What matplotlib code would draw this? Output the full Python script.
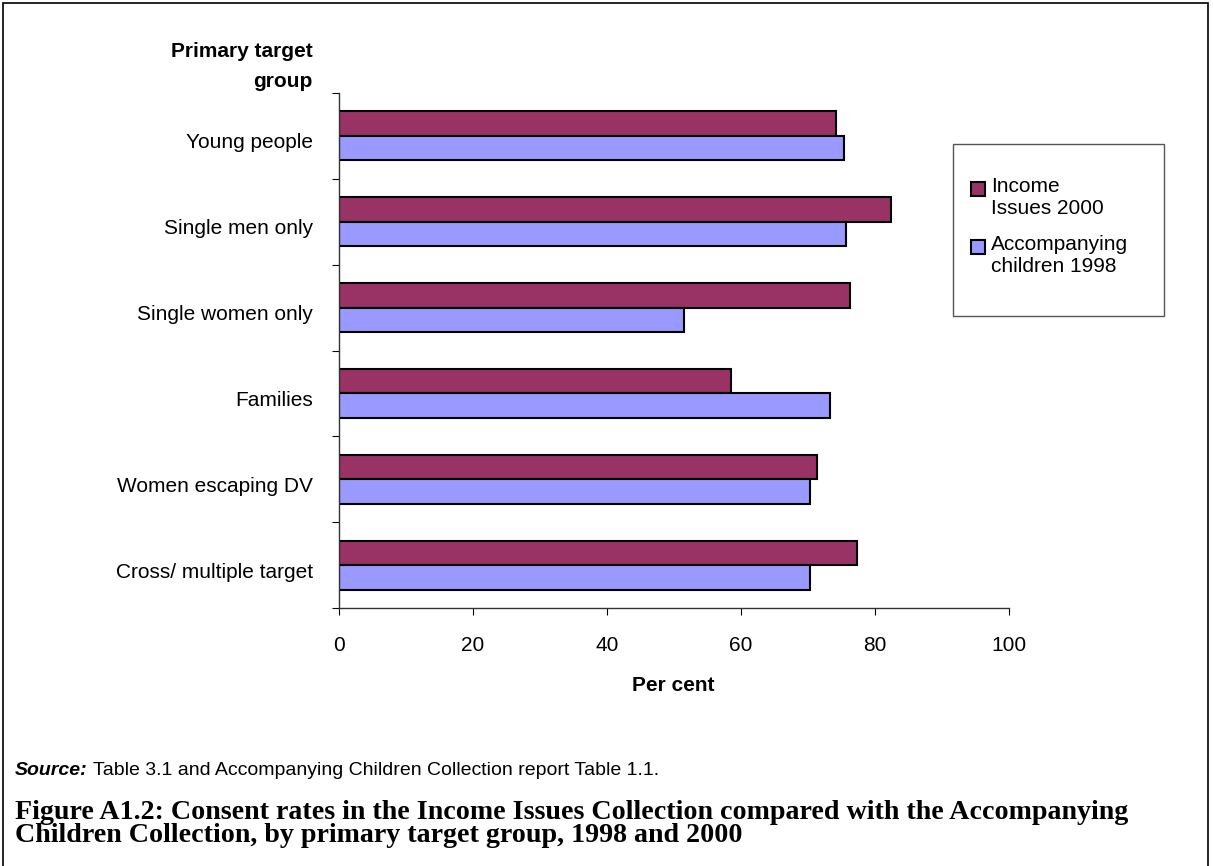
import matplotlib
matplotlib.use("Agg")
import matplotlib.pyplot as plt
from matplotlib.patches import Rectangle
from matplotlib.transforms import ScaledTranslation
import numpy as np

categories = ["Young people", "Single men only", "Single women only", "Families",
              "Women escaping DV", "Cross/ multiple target"]
income_2000 = [74.3, 82.4, 76.4, 58.5, 71.4, 77.4]
accomp_1998 = [75.5, 75.8, 51.6, 73.4, 70.4, 70.4]
series_names = ["Income\nIssues 2000", "Accompanying\nchildren 1998"]
xticks = [0, 20, 40, 60, 80, 100]

plt.rcParams['font.family'] = ['Liberation Sans', 'DejaVu Sans']
W, H = 1213, 866
FS = 15

fig = plt.figure(figsize=(W/100, H/100), dpi=100)
ax = fig.add_axes([339/W, 1-608/H, (1008.5-339)/W, (608-93)/H])

n = len(categories)
centers = np.arange(n)[::-1] + 0.5
h = 0.285
b1 = ax.barh(centers + h/2, income_2000, height=h, color="#993366",
             edgecolor="black", linewidth=1.5, label=series_names[0])
b2 = ax.barh(centers - h/2, accomp_1998, height=h, color="#9999FF",
             edgecolor="black", linewidth=1.5, label=series_names[1])

ax.set_xlim(0, 100)
ax.set_ylim(0, n)
ax.set_xticks(xticks)
ax.set_xticklabels([str(t) for t in xticks], fontsize=FS)
ax.tick_params(axis='x', direction='out', length=5, pad=15, colors='black')

ax.set_yticks(np.arange(n + 1))
ax.set_yticklabels([])
ax.tick_params(axis='y', which='major', direction='out', length=5)
ax.set_yticks(centers, minor=True)
ax.set_yticklabels(categories, minor=True, fontsize=FS)
ax.tick_params(axis='y', which='minor', length=0, pad=18.5)
for lbl in ax.get_yticklabels(minor=True):
    lbl.set_transform(lbl.get_transform() + ScaledTranslation(0, -5/100, fig.dpi_scale_trans))

for s in ['top', 'right']:
    ax.spines[s].set_visible(False)
for s in ['left', 'bottom']:
    ax.spines[s].set_color('#333333')
    ax.spines[s].set_linewidth(1)

ax.set_xlabel("Per cent", fontsize=FS, fontweight='bold', labelpad=15)

fig.text(313/W, 1-57/H, "Primary target", ha='right', va='baseline',
         fontsize=FS, fontweight='bold')
fig.text(313/W, 1-87/H, "group", ha='right', va='baseline',
         fontsize=FS, fontweight='bold')

# legend frame
fig.patches.append(Rectangle((953/W, 1-316/H), (1164-953)/W, (316-144)/H,
                             transform=fig.transFigure, fill=False,
                             edgecolor='#555555', linewidth=1))
leg = fig.legend(handles=[b1, b2], labels=series_names,
                 loc='upper left', bbox_to_anchor=(971/W, 1-177/H),
                 fontsize=FS, frameon=False,
                 handlelength=0.67, handleheight=0.67, handletextpad=0.3,
                 borderpad=0, labelspacing=0.8, borderaxespad=0)
for hp in leg.legend_handles:
    hp.set_y(hp.get_y() + 6)

# source line
src = fig.text(15/W, 1-775/H, "Source:", fontsize=14, va='baseline',
               fontweight='bold', style='italic')
ax.annotate(" Table 3.1 and Accompanying Children Collection report Table 1.1.",
            xy=(1, 0), xycoords=src, va='bottom', ha='left', fontsize=14,
            annotation_clip=False)

fig.text(15/W, 1-842/H,
         "Figure A1.2: Consent rates in the Income Issues Collection compared with the Accompanying\n"
         "Children Collection, by primary target group, 1998 and 2000",
         fontsize=20.2, fontweight='bold', family=['Liberation Serif', 'DejaVu Serif'],
         va='baseline', linespacing=0.89)

fig.patches.append(Rectangle((2.5/W, -0.01), (1208-2.5)/W, 1.01-2.5/H,
                             transform=fig.transFigure, fill=False,
                             edgecolor='black', linewidth=1.2))

fig.savefig("out.png", dpi=100)
